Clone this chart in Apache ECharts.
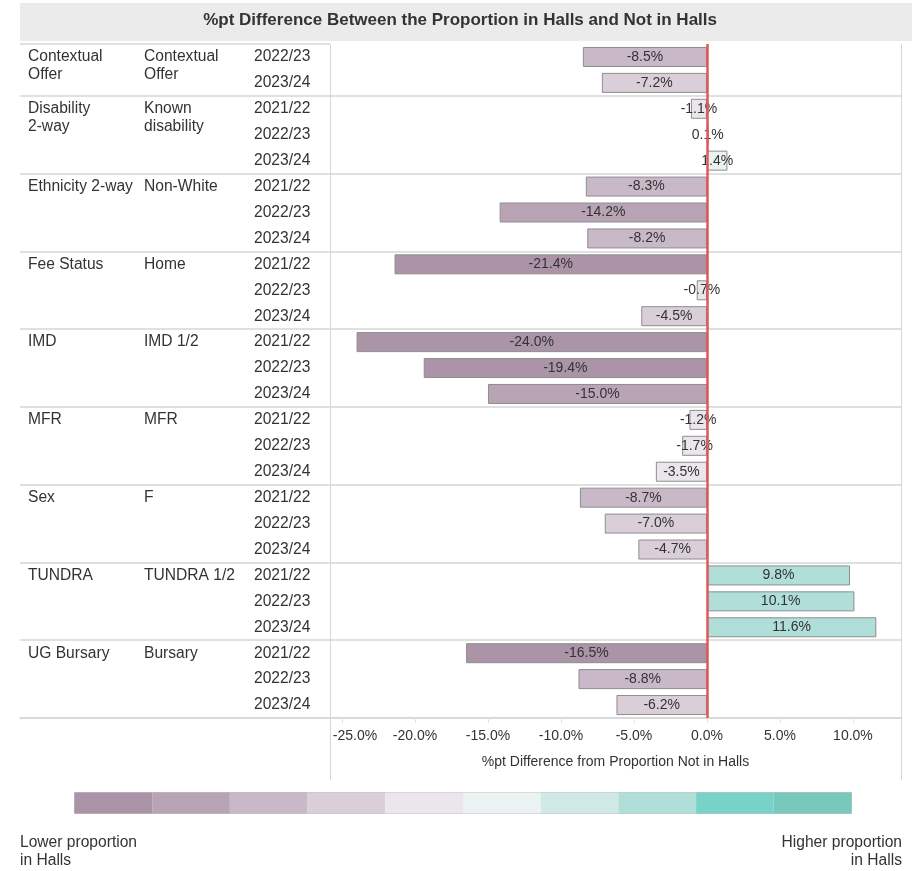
<!DOCTYPE html>
<html><head><meta charset="utf-8">
<script src="https://cdn.jsdelivr.net/npm/echarts@6/dist/echarts.min.js"></script>
<style>html,body{margin:0;padding:0;background:#fff}#c{width:912px;height:871px}</style>
</head><body><div id="c"></div>
<script>
// ---- data ----
const groupLabels = ['Contextual\nOffer', 'Disability\n2-way', 'Ethnicity 2-way', 'Fee Status', 'IMD', 'MFR', 'Sex', 'TUNDRA', 'UG Bursary'];
const subgroupLabels = ['Contextual\nOffer', 'Known\ndisability', 'Non-White', 'Home', 'IMD 1/2', 'MFR', 'F', 'TUNDRA 1/2', 'Bursary'];
const yearsContextual = ['2022/23', '2023/24'];
const yearsAll = ['2021/22', '2022/23', '2023/24'];
const yearsByGroup = [yearsContextual, yearsAll, yearsAll, yearsAll, yearsAll, yearsAll, yearsAll, yearsAll, yearsAll];
const contextualOffer = [-8.5, -7.2];
const disability = [-1.1, 0.1, 1.4];
const ethnicity = [-8.3, -14.2, -8.2];
const feeStatus = [-21.4, -0.7, -4.5];
const imd = [-24.0, -19.4, -15.0];
const mfr = [-1.2, -1.7, -3.5];
const sex = [-8.7, -7.0, -4.7];
const tundra = [9.8, 10.1, 11.6];
const ugBursary = [-16.5, -8.8, -6.2];
const valuesByGroup = [contextualOffer, disability, ethnicity, feeStatus, imd, mfr, sex, tundra, ugBursary];
const xTicks = [-25, -20, -15, -10, -5, 0, 5, 10];
const colorBreaks = [-16, -12, -8, -4, 0, 4, 8, 12, 16];
const binColors = ['#ab93a8', '#b9a4b6', '#c9b8c7', '#dacfd9', '#ebe5ec', '#eaf3f1', '#d1e9e6', '#b0ded8', '#79d2c9', '#78c9bc'];
const axisTitle = '%pt Difference from Proportion Not in Halls';
const chartTitle = '%pt Difference Between the Proportion in Halls and Not in Halls';

// ---- build rows ----
const rows = [];
const groupStarts = new Set();
valuesByGroup.forEach((vals, g) => {
  groupStarts.add(rows.length);
  vals.forEach((v, k) => rows.push({ g, first: k === 0, year: yearsByGroup[g][k], value: v }));
});
const cats = rows.map((r, i) => String(i));
const barData = rows.map((r, i) => [r.value, i]);
const tableData = rows.map((r, i) => [0, i]);

const pieces = [];
for (let i = 0; i <= colorBreaks.length; i++) {
  const p = { color: binColors[i] };
  if (i > 0) p.gte = colorBreaks[i - 1];
  if (i < colorBreaks.length) p.lt = colorBreaks[i];
  pieces.push(p);
}

const FF = '"Liberation Sans", Arial, sans-serif';
const TXT = '#333333';
const SEP = '#d6d6d6';
const TFONT = '15.6px ' + FF;

const chart = echarts.init(document.getElementById('c'), null, { renderer: 'canvas' });
chart.setOption({
  animation: false,
  textStyle: { fontFamily: FF },
  title: {
    text: chartTitle, left: 717, top: 12, padding: 0, textAlign: 'right',
    textStyle: { fontSize: 17, fontWeight: 'bold', color: TXT, fontFamily: FF }
  },
  graphic: [
    { type: 'rect', z: -10, shape: { x: 20, y: 3, width: 892, height: 38 }, style: { fill: '#ebebeb' } },
    { type: 'line', z: 5, shape: { x1: 330.5, y1: 44, x2: 330.5, y2: 780 }, style: { stroke: SEP, lineWidth: 1 } },
    { type: 'line', z: 5, shape: { x1: 901.5, y1: 44, x2: 901.5, y2: 780 }, style: { stroke: SEP, lineWidth: 1 } },
    { type: 'text', x: 20, y: 834, style: { text: 'Lower proportion\nin Halls', font: TFONT, fill: TXT, align: 'left', verticalAlign: 'top', lineHeight: 18 } },
    { type: 'text', x: 902, y: 834, style: { text: 'Higher proportion\nin Halls', font: TFONT, fill: TXT, align: 'right', verticalAlign: 'top', lineHeight: 18 } }
  ],
  grid: [
    { left: 20, top: 44, width: 310, bottom: 153 },
    { left: 330, top: 44, right: 11, bottom: 153 }
  ],
  xAxis: [
    { gridIndex: 0, type: 'value', min: 0, max: 310, axisLabel: { show: false }, axisTick: { show: false }, splitLine: { show: false },
      axisLine: { show: true, lineStyle: { color: SEP, width: 1.5 } } },
    { gridIndex: 1, type: 'value', min: -25.82, max: 13.29,
      axisLine: { show: true, lineStyle: { color: SEP, width: 1.5 } },
      axisTick: { show: true, customValues: xTicks, length: 5, lineStyle: { color: '#e2e2e2' } },
      splitLine: { show: false },
      axisLabel: {
        customValues: xTicks, margin: 11, fontSize: 14, color: TXT, fontFamily: FF,
        formatter: v => v === xTicks[0] ? '{s|' + v.toFixed(1) + '%}' : v.toFixed(1) + '%',
        rich: { s: { padding: [0, 0, 0, 26], fontSize: 14, color: TXT, fontFamily: FF } }
      },
      name: axisTitle, nameLocation: 'middle', nameGap: 37,
      nameTextStyle: { fontSize: 14, color: TXT, fontFamily: FF } }
  ],
  yAxis: [
    { gridIndex: 0, type: 'category', data: cats, inverse: true,
      axisLine: { show: false }, axisTick: { show: false }, axisLabel: { show: false },
      splitLine: { show: true, interval: (idx) => groupStarts.has(idx), lineStyle: { color: SEP, width: 1.5 } } },
    { gridIndex: 1, type: 'category', data: cats, inverse: true,
      axisLine: { show: false }, axisTick: { show: false }, axisLabel: { show: false },
      splitLine: { show: true, interval: (idx) => idx > 0 && groupStarts.has(idx), lineStyle: { color: SEP, width: 1.5 } } }
  ],
  visualMap: {
    type: 'piecewise', seriesIndex: 0, dimension: 0, pieces: pieces,
    orient: 'horizontal', left: 74, top: 792, itemWidth: 77.7, itemHeight: 21, itemGap: 0,
    itemSymbol: 'rect', showLabel: false, padding: 0, borderColor: '#c4c4c4', borderWidth: 1,
    selectedMode: false, hoverLink: false
  },
  series: [
    {
      type: 'bar', xAxisIndex: 1, yAxisIndex: 1, data: barData, encode: { x: 0, y: 1 },
      barWidth: 20,
      itemStyle: { borderColor: '#8e8e8e', borderWidth: 1 },
      label: { show: true, position: 'inside', color: TXT, fontSize: 14, fontFamily: FF, textBorderWidth: 0,
        formatter: p => p.value[0].toFixed(1) + '%' },
      emphasis: { disabled: true },
      markLine: { silent: true, symbol: ['none', 'none'], label: { show: false },
        lineStyle: { color: '#e15759', width: 2.5, type: 'solid' }, data: [{ xAxis: 0 }] }
    },
    {
      type: 'custom', xAxisIndex: 0, yAxisIndex: 0, data: tableData, encode: { x: 0, y: 1 }, silent: true,
      renderItem: (params, api) => {
        const i = api.value(1);
        const p = api.coord([0, i]);
        const x0 = params.coordSys.x;
        const r = rows[i];
        const children = [
          { type: 'text', style: { text: r.year, x: x0 + 234, y: p[1], font: TFONT, fill: TXT, align: 'left', verticalAlign: 'middle' } }
        ];
        if (r.first) {
          children.push({ type: 'text', style: { text: groupLabels[r.g], x: x0 + 8, y: p[1] - 9, font: TFONT, fill: TXT, align: 'left', verticalAlign: 'top', lineHeight: 18 } });
          children.push({ type: 'text', style: { text: subgroupLabels[r.g], x: x0 + 124, y: p[1] - 9, font: TFONT, fill: TXT, align: 'left', verticalAlign: 'top', lineHeight: 18 } });
        }
        return { type: 'group', children };
      }
    }
  ]
});
</script>
</body></html>
